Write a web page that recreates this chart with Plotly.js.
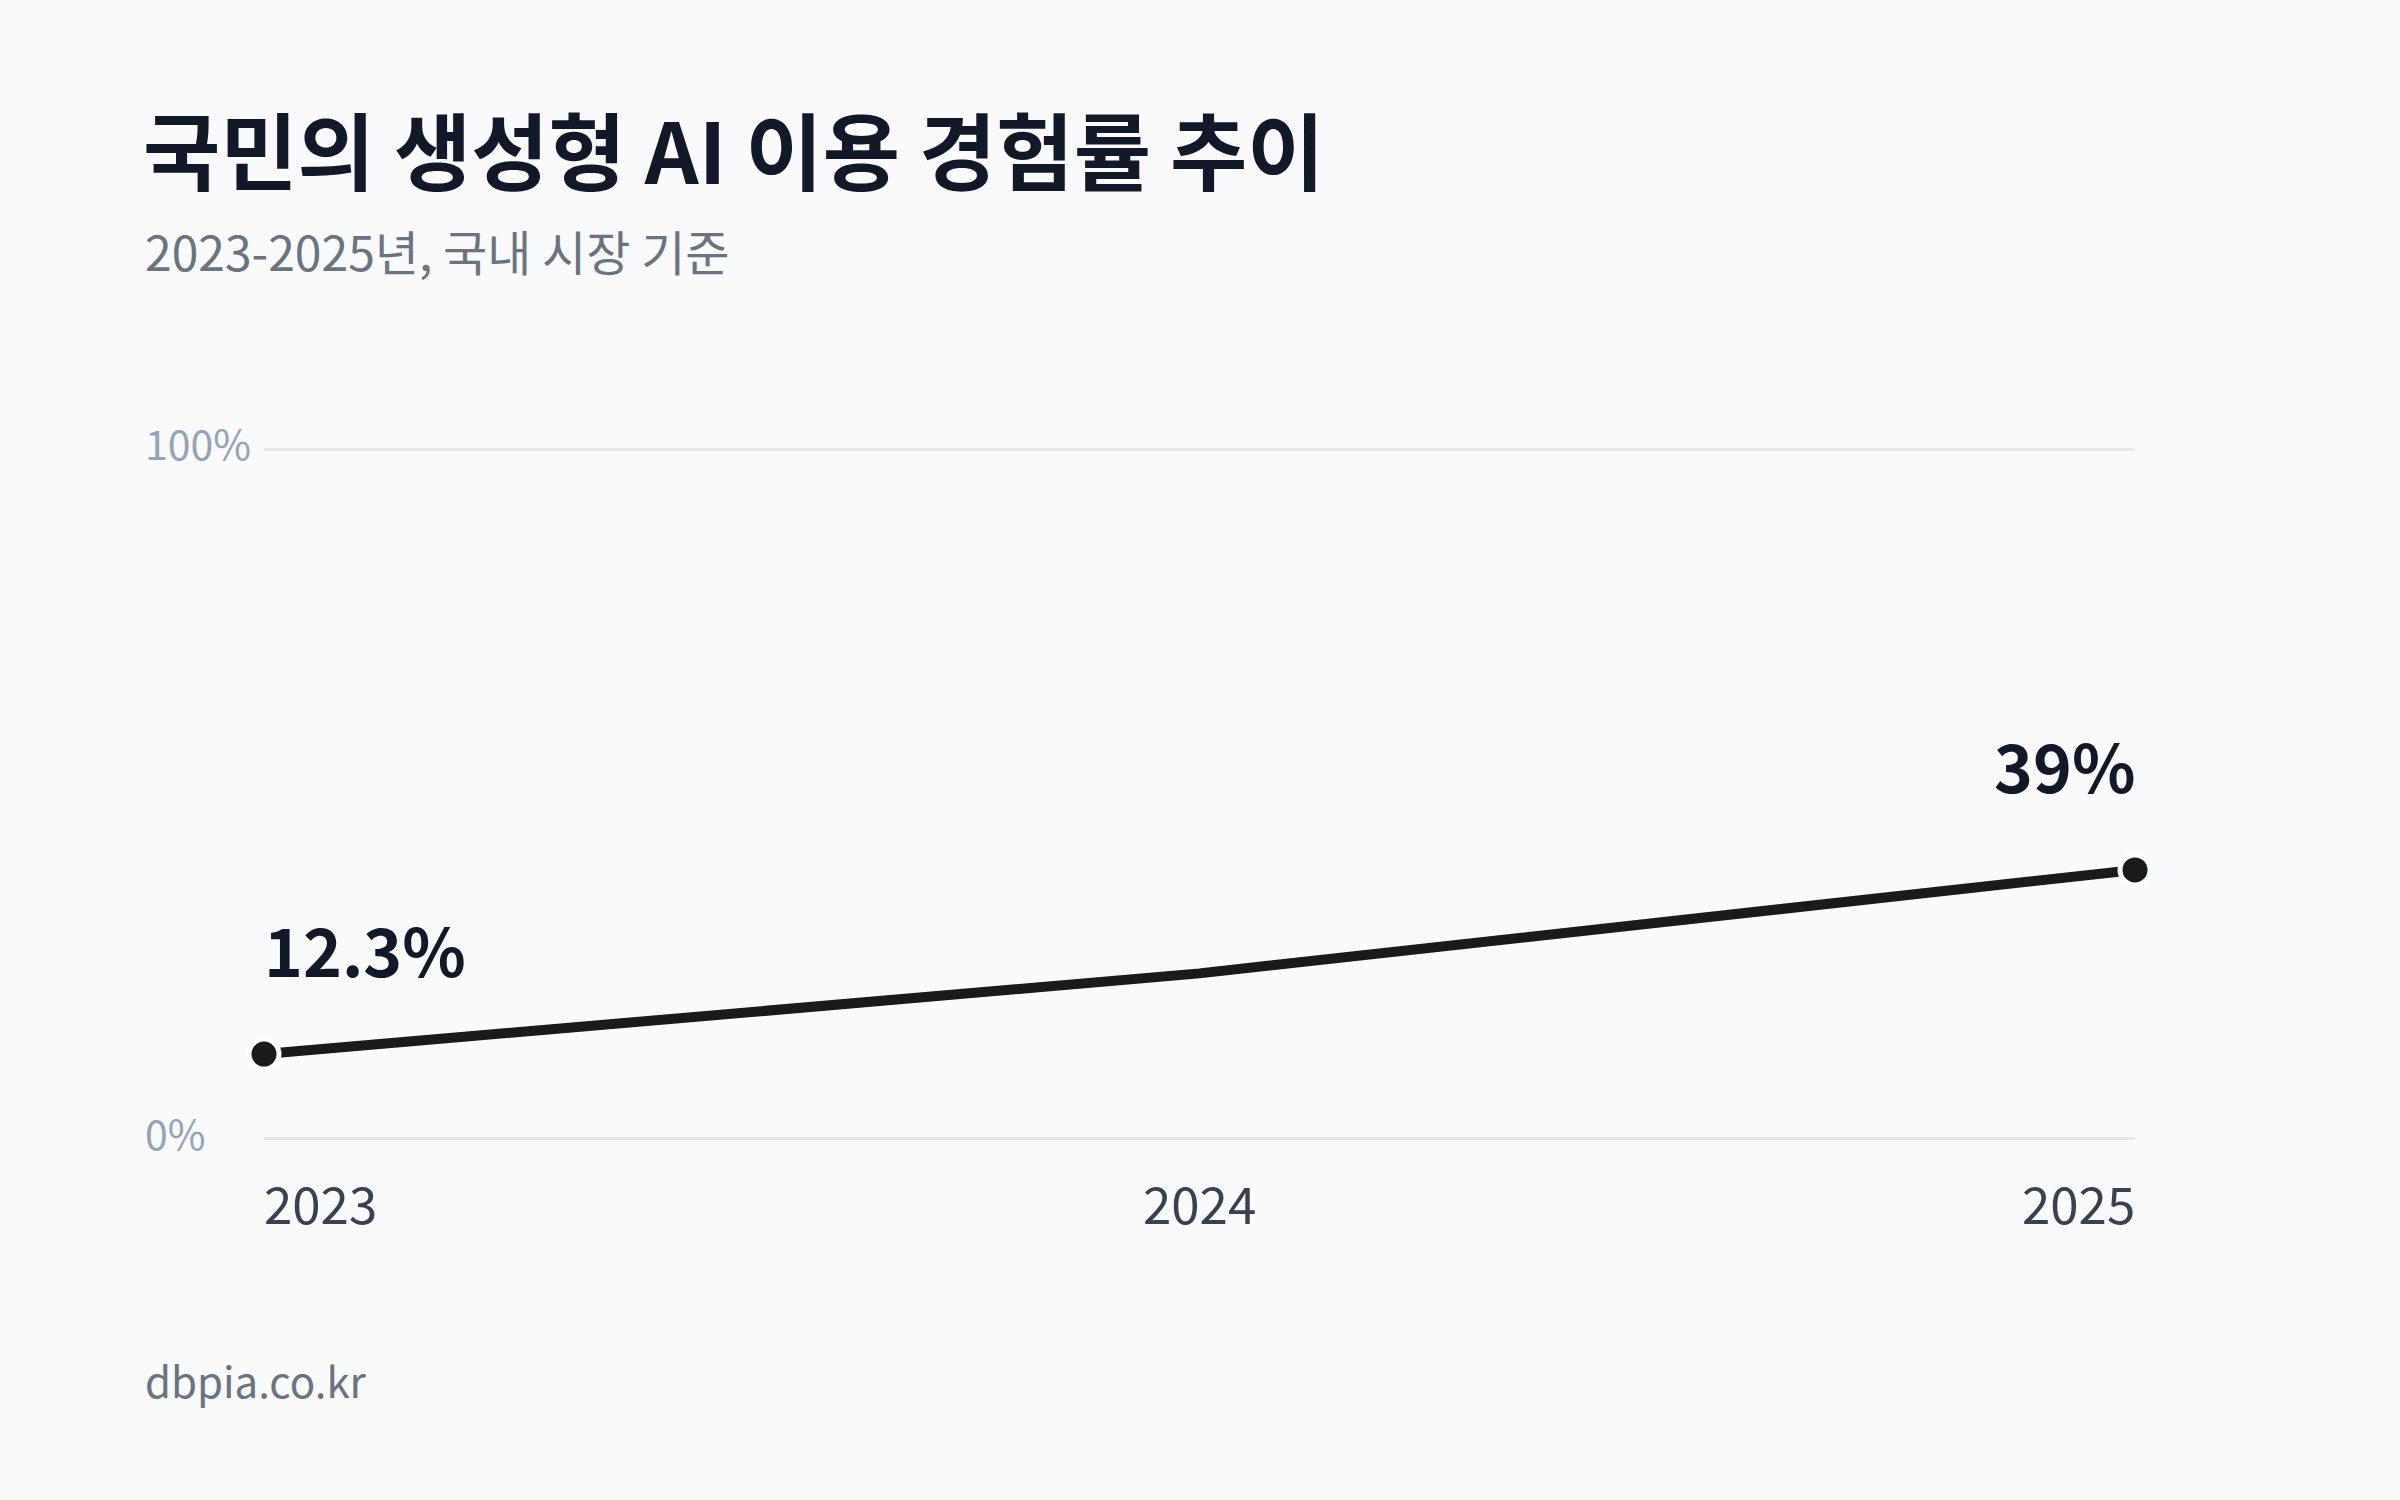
<!DOCTYPE html>
<html>
<head>
<meta charset="utf-8">
<script src="https://cdn.plot.ly/plotly-3.0.1.min.js"></script>
<style>
  html, body { margin: 0; padding: 0; background: #f8fafc; }
  #chart { width: 2400px; height: 1500px; }
</style>
</head>
<body>
<div id="chart"></div>
<script>
// ---- data ----
const years = [2023, 2024, 2025];
const yearLabels = ['2023', '2024', '2025'];
const rates = [12.3, 24.0, 39.0];
const valueLabels = ['12.3%', '', '39%'];
const yTickVals = [0, 100];
const yTickText = ['0%', '100%'];

const titleText = '국민의 생성형 AI 이용 경험률 추이';
const subtitleText = '2023-2025년, 국내 시장 기준';
const sourceText = 'dbpia.co.kr';

const FONT = '"Noto Sans CJK KR", "Noto Sans", sans-serif';

// ---- geometry helpers (px) ----
const W = 2400, H = 1500;
const ML = 264, MR = 265, MT = 447, MB = 359;
const PW = W - ML - MR, PH = H - MT - MB;
const leftTextPx = 143;
const px2paperX = px => (px - ML) / PW;
const px2paperY = py => (H - MB - py) / PH;

const annotations = [];

// subtitle
annotations.push({
  text: subtitleText, xref: 'paper', yref: 'paper',
  x: px2paperX(leftTextPx), y: px2paperY(250), xanchor: 'left', yanchor: 'middle',
  showarrow: false, font: {family: FONT, size: 48, color: '#6b7280'}
});
// source
annotations.push({
  text: sourceText, xref: 'paper', yref: 'paper',
  x: px2paperX(leftTextPx), y: px2paperY(1379), xanchor: 'left', yanchor: 'middle',
  showarrow: false, font: {family: FONT, size: 42, color: '#6b7280'}
});
// y tick labels
yTickVals.forEach((v, i) => {
  annotations.push({
    text: yTickText[i], xref: 'paper', yref: 'y',
    x: px2paperX(leftTextPx), y: v, yshift: 7, xanchor: 'left', yanchor: 'middle',
    showarrow: false, font: {family: FONT, size: 41, color: '#94a3b8'}
  });
});
// x tick labels
years.forEach((yr, i) => {
  const last = i === years.length - 1;
  const anchor = i === 0 ? 'left' : (last ? 'right' : 'center');
  annotations.push({
    text: yearLabels[i], xref: 'x', yref: 'y',
    x: yr, y: 0, yshift: -63, xshift: i === 0 ? -2 : (last ? 2 : 0),
    xanchor: anchor, yanchor: 'middle',
    showarrow: false, font: {family: FONT, size: 51, color: '#374151'}
  });
});
// value labels
years.forEach((yr, i) => {
  if (!valueLabels[i]) return;
  const last = i === years.length - 1;
  const anchor = i === 0 ? 'left' : (last ? 'right' : 'center');
  annotations.push({
    text: '<b>' + valueLabels[i] + '</b>', xref: 'x', yref: 'y',
    x: yr, y: rates[i], yshift: 106, xshift: i === 0 ? -2 : (last ? 2 : 0),
    xanchor: anchor, yanchor: 'middle',
    showarrow: false, font: {family: FONT, size: 66, color: '#111827'}
  });
});

const lineTrace = {
  x: years, y: rates, type: 'scatter', mode: 'lines',
  line: {color: '#1a1a1a', width: 10, shape: 'spline', smoothing: 0.4},
  cliponaxis: false, hoverinfo: 'skip', showlegend: false
};

const markX = years.filter((_, i) => valueLabels[i]);
const markY = rates.filter((_, i) => valueLabels[i]);
const markerTrace = {
  x: markX, y: markY, type: 'scatter', mode: 'markers',
  marker: {color: '#1a1a1a', size: 30, opacity: 1, line: {color: '#ffffff', width: 5}},
  cliponaxis: false, hoverinfo: 'skip', showlegend: false
};

const layout = {
  width: W, height: H,
  paper_bgcolor: '#f8fafc', plot_bgcolor: '#f8fafc',
  margin: {l: ML, r: MR, t: MT, b: MB, pad: 0},
  title: {
    text: '<b>' + titleText + '</b>',
    xref: 'container', yref: 'container',
    x: leftTextPx / W, xanchor: 'left',
    y: 1 - 155 / H, yanchor: 'middle',
    font: {family: FONT, size: 84, color: '#111827'}
  },
  xaxis: {
    range: [years[0], years[years.length - 1]],
    showgrid: false, zeroline: false, showline: false, showticklabels: false, ticks: ''
  },
  yaxis: {
    range: [-0.3, 100.3], tickvals: yTickVals, showticklabels: false,
    showgrid: true, gridcolor: '#e5e7eb', gridwidth: 3,
    zeroline: false, showline: false, ticks: ''
  },
  annotations: annotations,
  showlegend: false
};

Plotly.newPlot('chart', [lineTrace, markerTrace], layout, {staticPlot: true, displayModeBar: false});
</script>
</body>
</html>
